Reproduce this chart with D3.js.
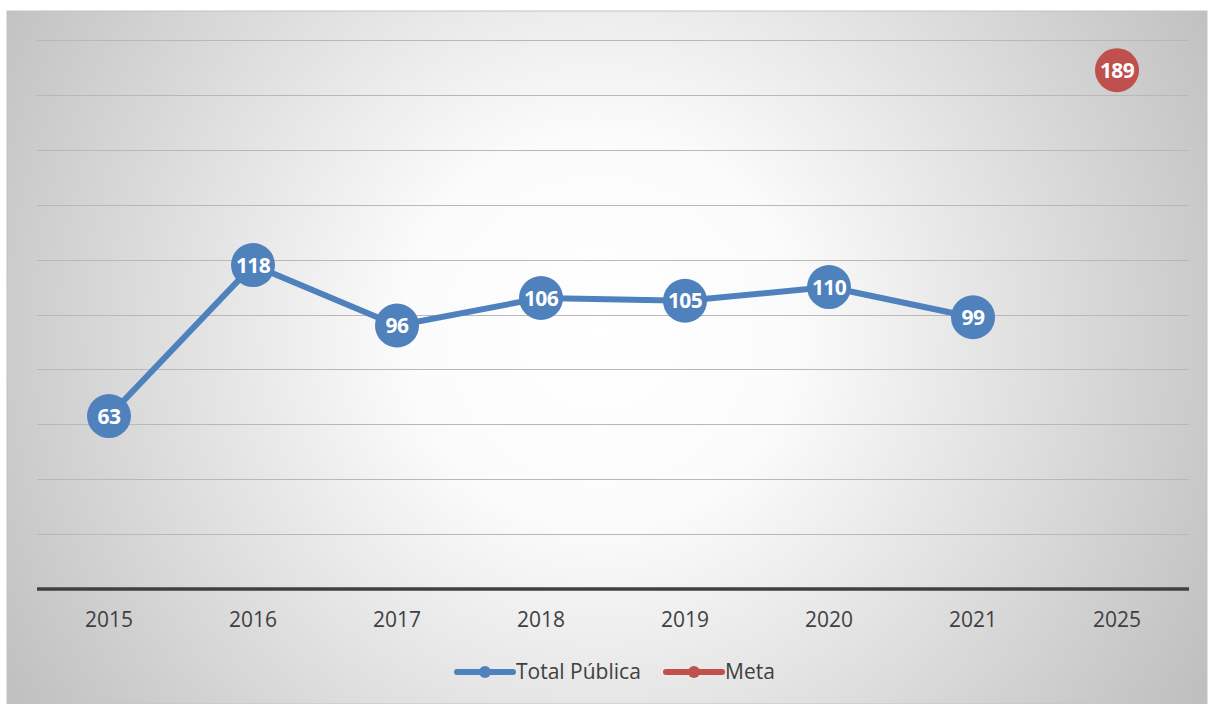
<!DOCTYPE html>
<meta charset="utf-8">
<script src="https://d3js.org/d3.v7.min.js"></script>
<style>
  body { margin: 0; background: #fff; font-family: "Open Sans", "Liberation Sans", Arial, sans-serif; }
</style>
<body>
<div id="chart"></div>
<script>
// data
const years = ["2015", "2016", "2017", "2018", "2019", "2020", "2021", "2025"];
const totalPublica = [63, 118, 96, 106, 105, 110, 99, null];
const meta = [null, null, null, null, null, null, null, 189];
const yTicks = [0, 20, 40, 60, 80, 100, 120, 140, 160, 180, 200];

const W = 1208, H = 704;
const box = {x: 7, y: 11, w: 1200, h: 693};
const plot = {left: 37, right: 1189, top: 40, bottom: 589};

const svg = d3.select("#chart").append("svg")
  .attr("width", W).attr("height", H);

// background gradient
const defs = svg.append("defs");
const grad = defs.append("radialGradient")
  .attr("id", "bg")
  .attr("gradientUnits", "userSpaceOnUse")
  .attr("cx", 600).attr("cy", 330).attr("r", 700);
grad.append("stop").attr("offset", "0%").attr("stop-color", "#ffffff");
grad.append("stop").attr("offset", "28%").attr("stop-color", "#fbfbfb");
grad.append("stop").attr("offset", "100%").attr("stop-color", "#bfbfbf");

svg.append("rect")
  .attr("x", box.x).attr("y", box.y)
  .attr("width", box.w).attr("height", box.h)
  .attr("fill", "url(#bg)")
  .attr("stroke", "#c4c4c4").attr("stroke-width", 1);

const x = d3.scaleBand()
  .domain(years)
  .range([plot.left, plot.right]);

const y = d3.scaleLinear()
  .domain([0, 200])
  .range([plot.bottom, plot.top]);

// gridlines
svg.append("g")
  .selectAll("line")
  .data(yTicks.filter(d => d > 0))
  .join("line")
    .attr("x1", plot.left).attr("x2", plot.right)
    .attr("y1", d => Math.round(y(d)) + 0.5).attr("y2", d => Math.round(y(d)) + 0.5)
    .attr("stroke", "#b8b8b8").attr("stroke-width", 1.2);

// x axis
const xAxis = svg.append("g")
  .attr("transform", `translate(0, ${plot.bottom})`)
  .call(d3.axisBottom(x).tickSize(0).tickPadding(23));
xAxis.select(".domain")
  .attr("d", `M${plot.left},0H${plot.right}`)
  .attr("stroke", "#404040").attr("stroke-width", 3.5);
xAxis.selectAll("text")
  .attr("font-family", "'Open Sans', 'Liberation Sans', sans-serif")
  .attr("font-size", 21).attr("fill", "#404040");

const cx = d => x(d) + x.bandwidth() / 2;

function drawSeries(values, color) {
  const pts = years.map((yr, i) => ({yr, v: values[i]})).filter(d => d.v != null);
  svg.append("path")
    .datum(pts)
    .attr("fill", "none")
    .attr("stroke", color)
    .attr("stroke-width", 6)
    .attr("stroke-linejoin", "round")
    .attr("d", d3.line().x(d => cx(d.yr)).y(d => y(d.v)));
  const g = svg.append("g").selectAll("g").data(pts).join("g")
    .attr("transform", d => `translate(${cx(d.yr)}, ${y(d.v)})`);
  g.append("circle").attr("r", 22).attr("fill", color);
  g.append("text")
    .attr("text-anchor", "middle")
    .attr("dy", "0.36em")
    .attr("font-family", "'Open Sans', 'Liberation Sans', sans-serif")
    .attr("font-weight", "bold")
    .attr("font-size", 21)
    .attr("letter-spacing", -0.6)
    .attr("fill", "#fff")
    .text(d => d.v);
}

drawSeries(totalPublica, "#4f81bd");
drawSeries(meta, "#c0504d");

// legend
const legend = [
  {name: "Total Pública", color: "#4f81bd", x: 457},
  {name: "Meta", color: "#c0504d", x: 666}
];
const lg = svg.append("g").selectAll("g").data(legend).join("g")
  .attr("transform", d => `translate(${d.x}, 672)`);
lg.append("line")
  .attr("x1", 0).attr("x2", 56)
  .attr("stroke", d => d.color).attr("stroke-width", 6).attr("stroke-linecap", "round");
lg.append("circle").attr("cx", 28).attr("r", 6).attr("fill", d => d.color);
lg.append("text")
  .attr("x", 59).attr("dy", "0.35em")
  .attr("font-family", "'Open Sans', 'Liberation Sans', sans-serif")
  .attr("font-size", 21).attr("fill", "#404040")
  .text(d => d.name);
</script>
</body>
